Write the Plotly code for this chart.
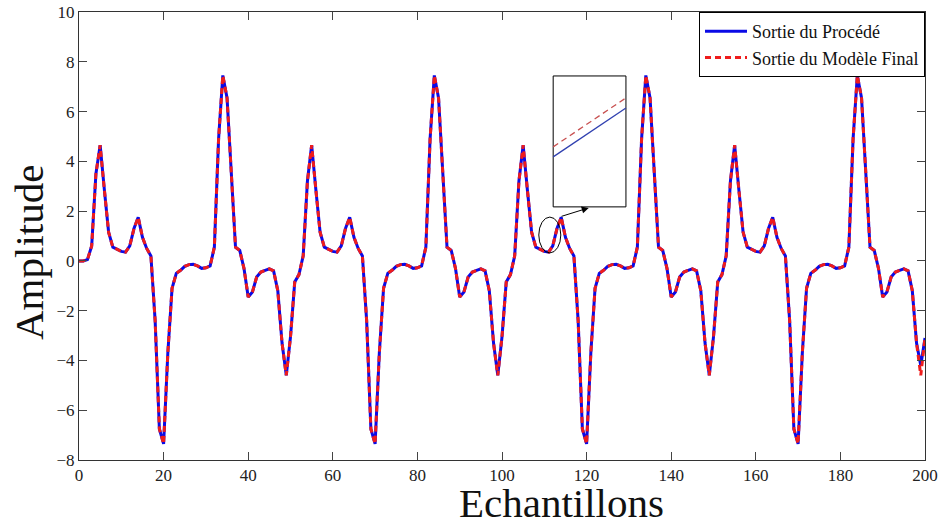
import plotly.graph_objects as go

# Sample index
samples = list(range(201))

# Process output (Sortie du Procédé)
process_output = [
    0.0, 0.0, 0.05, 0.6, 3.5, 4.65, 2.85, 1.15, 0.55, 0.45,
    0.38, 0.35, 0.6, 1.3, 1.75, 0.95, 0.5, 0.2, -2.4, -6.75,
    -7.35, -3.7, -1.1, -0.5, -0.38, -0.22, -0.15, -0.14, -0.2, -0.3,
    -0.28, -0.2, 0.55, 4.9, 7.45, 6.55, 3.3, 0.55, 0.42, -0.3,
    -1.45, -1.25, -0.65, -0.45, -0.38, -0.32, -0.4, -1.2, -3.3, -4.6,
    -3.05, -0.85, -0.55, 0.2, 3.2, 4.65, 2.85, 1.15, 0.55, 0.45,
    0.38, 0.35, 0.6, 1.3, 1.75, 0.95, 0.5, 0.2, -2.4, -6.75,
    -7.35, -3.7, -1.1, -0.5, -0.38, -0.22, -0.15, -0.14, -0.2, -0.3,
    -0.28, -0.2, 0.55, 4.9, 7.45, 6.55, 3.3, 0.55, 0.42, -0.3,
    -1.45, -1.25, -0.65, -0.45, -0.38, -0.32, -0.4, -1.2, -3.3, -4.6,
    -3.05, -0.85, -0.55, 0.2, 3.2, 4.65, 2.85, 1.15, 0.55, 0.45,
    0.38, 0.35, 0.6, 1.3, 1.75, 0.95, 0.5, 0.2, -2.4, -6.75,
    -7.35, -3.7, -1.1, -0.5, -0.38, -0.22, -0.15, -0.14, -0.2, -0.3,
    -0.28, -0.2, 0.55, 4.9, 7.45, 6.55, 3.3, 0.55, 0.42, -0.3,
    -1.45, -1.25, -0.65, -0.45, -0.38, -0.32, -0.4, -1.2, -3.3, -4.6,
    -3.05, -0.85, -0.55, 0.2, 3.2, 4.65, 2.85, 1.15, 0.55, 0.45,
    0.38, 0.35, 0.6, 1.3, 1.75, 0.95, 0.5, 0.2, -2.4, -6.75,
    -7.35, -3.7, -1.1, -0.5, -0.38, -0.22, -0.15, -0.14, -0.2, -0.3,
    -0.28, -0.2, 0.55, 4.9, 7.45, 6.55, 3.3, 0.55, 0.42, -0.3,
    -1.45, -1.25, -0.65, -0.45, -0.38, -0.32, -0.4, -1.2, -3.3, -4.2,
    -3.1,
]

# Final model output (Sortie du Modèle Final)
model_output = [
    0.0, 0.0, 0.05, 0.6, 3.5, 4.65, 2.85, 1.15, 0.55, 0.45,
    0.38, 0.35, 0.6, 1.3, 1.75, 0.95, 0.5, 0.2, -2.4, -6.75,
    -7.35, -3.7, -1.1, -0.5, -0.38, -0.22, -0.15, -0.14, -0.2, -0.3,
    -0.28, -0.2, 0.55, 4.9, 7.45, 6.55, 3.3, 0.55, 0.42, -0.3,
    -1.45, -1.25, -0.65, -0.45, -0.38, -0.32, -0.4, -1.2, -3.3, -4.6,
    -3.05, -0.85, -0.55, 0.2, 3.2, 4.65, 2.85, 1.15, 0.55, 0.45,
    0.38, 0.35, 0.6, 1.3, 1.75, 0.95, 0.5, 0.2, -2.4, -6.75,
    -7.35, -3.7, -1.1, -0.5, -0.38, -0.22, -0.15, -0.14, -0.2, -0.3,
    -0.28, -0.2, 0.55, 4.9, 7.45, 6.55, 3.3, 0.55, 0.42, -0.3,
    -1.45, -1.25, -0.65, -0.45, -0.38, -0.32, -0.4, -1.2, -3.3, -4.6,
    -3.05, -0.85, -0.55, 0.2, 3.2, 4.65, 2.85, 1.15, 0.55, 0.45,
    0.38, 0.35, 0.6, 1.3, 1.75, 0.95, 0.5, 0.2, -2.4, -6.75,
    -7.35, -3.7, -1.1, -0.5, -0.38, -0.22, -0.15, -0.14, -0.2, -0.3,
    -0.28, -0.2, 0.55, 4.9, 7.45, 6.55, 3.3, 0.55, 0.42, -0.3,
    -1.45, -1.25, -0.65, -0.45, -0.38, -0.32, -0.4, -1.2, -3.3, -4.6,
    -3.05, -0.85, -0.55, 0.2, 3.2, 4.65, 2.85, 1.15, 0.55, 0.45,
    0.38, 0.35, 0.6, 1.3, 1.75, 0.95, 0.5, 0.2, -2.4, -6.75,
    -7.35, -3.7, -1.1, -0.5, -0.38, -0.22, -0.15, -0.14, -0.2, -0.3,
    -0.28, -0.2, 0.55, 4.9, 7.45, 6.55, 3.3, 0.55, 0.42, -0.3,
    -1.45, -1.25, -0.65, -0.45, -0.38, -0.32, -0.4, -1.2, -3.3, -4.6,
    -3.1,
]

# Zoomed detail shown in the inset (segment endpoints, data units)
inset_x = [112.1, 129.3]
inset_process = [4.18, 6.14]
inset_model = [4.58, 6.55]

x_ticks = list(range(0, 201, 20))
y_ticks = list(range(-8, 11, 2))

SERIF = "Liberation Serif"
TICKFONT = dict(family=SERIF, size=17, color="#222")

W, H = 941, 528
ML, MR, MT, MB = 79, 16, 12, 68

fig = go.Figure()
fig.add_trace(go.Scatter(
    x=samples, y=process_output, mode="lines", name="Sortie du Procédé",
    line=dict(color="#0a0ae6", width=3),
))
fig.add_trace(go.Scatter(
    x=samples, y=model_output, mode="lines", name="Sortie du Modèle Final",
    line=dict(color="#ee1c1c", width=3, dash="6px,4px"),
))

# Inset box (white, under the traces so the zoomed segments show)
fig.add_shape(type="rect", x0=112.1, x1=129.3, y0=2.17, y1=7.43,
              line=dict(color="black", width=1), fillcolor="white", layer="below")
fig.add_trace(go.Scatter(x=inset_x, y=inset_process, mode="lines", showlegend=False,
                         line=dict(color="#3040b0", width=1.3), hoverinfo="skip"))
fig.add_trace(go.Scatter(x=inset_x, y=inset_model, mode="lines", showlegend=False,
                         line=dict(color="#c85050", width=1.3, dash="6px,4px"), hoverinfo="skip"))
# Ellipse around the zoomed region
fig.add_shape(type="circle", x0=108.7, x1=113.9, y0=0.32, y1=1.76,
              line=dict(color="black", width=1), layer="above")
# Arrow from ellipse to inset
fig.add_annotation(x=120.5, y=2.13, ax=113.7, ay=1.77, xref="x", yref="y",
                   axref="x", ayref="y", showarrow=True, arrowhead=2,
                   arrowsize=1.4, arrowwidth=1, arrowcolor="black", text="")

plot_w = W - ML - MR
plot_h = H - MT - MB


def px_x(sx):
    return (sx - ML) / plot_w


def px_y(sy):
    return (H - MB - sy) / plot_h


# Axis titles as annotations (pixel centres converted to paper units)
fig.add_annotation(text="Echantillons", x=px_x(561), y=px_y(503),
                   xref="paper", yref="paper", xanchor="center", yanchor="middle",
                   showarrow=False, font=dict(family=SERIF, size=41, color="#111"))
fig.add_annotation(text="Amplitude", x=px_x(29), y=px_y(253),
                   xref="paper", yref="paper", xanchor="center", yanchor="middle",
                   showarrow=False, textangle=-90,
                   font=dict(family=SERIF, size=41, color="#111"))

fig.update_layout(
    width=W, height=H,
    margin=dict(l=ML, r=MR, t=MT, b=MB, autoexpand=False),
    paper_bgcolor="white", plot_bgcolor="white",
    font=dict(family=SERIF, size=17, color="#222"),
    showlegend=True,
    legend=dict(x=1, y=1, xanchor="right", yanchor="top",
                bgcolor="white", bordercolor="black", borderwidth=1,
                font=dict(family=SERIF, size=18, color="#111"),
                itemwidth=42, tracegroupgap=0),
    xaxis=dict(range=[0, 200], tickvals=x_ticks, ticks="inside", ticklen=8,
               showline=True, linecolor="#333", linewidth=1, mirror="allticks",
               showgrid=False, zeroline=False, tickfont=TICKFONT, automargin=False),
    yaxis=dict(range=[-8, 10], tickvals=y_ticks, ticks="inside", ticklen=8,
               showline=True, linecolor="#333", linewidth=1, mirror="allticks",
               showgrid=False, zeroline=False, tickfont=TICKFONT, automargin=False),
)

# Remove the default page margin so the figure sits at the window's top-left
fig.write_html("out.html", config={"displayModeBar": False},
               post_script="document.body.style.margin='0';document.body.style.padding='0';")
